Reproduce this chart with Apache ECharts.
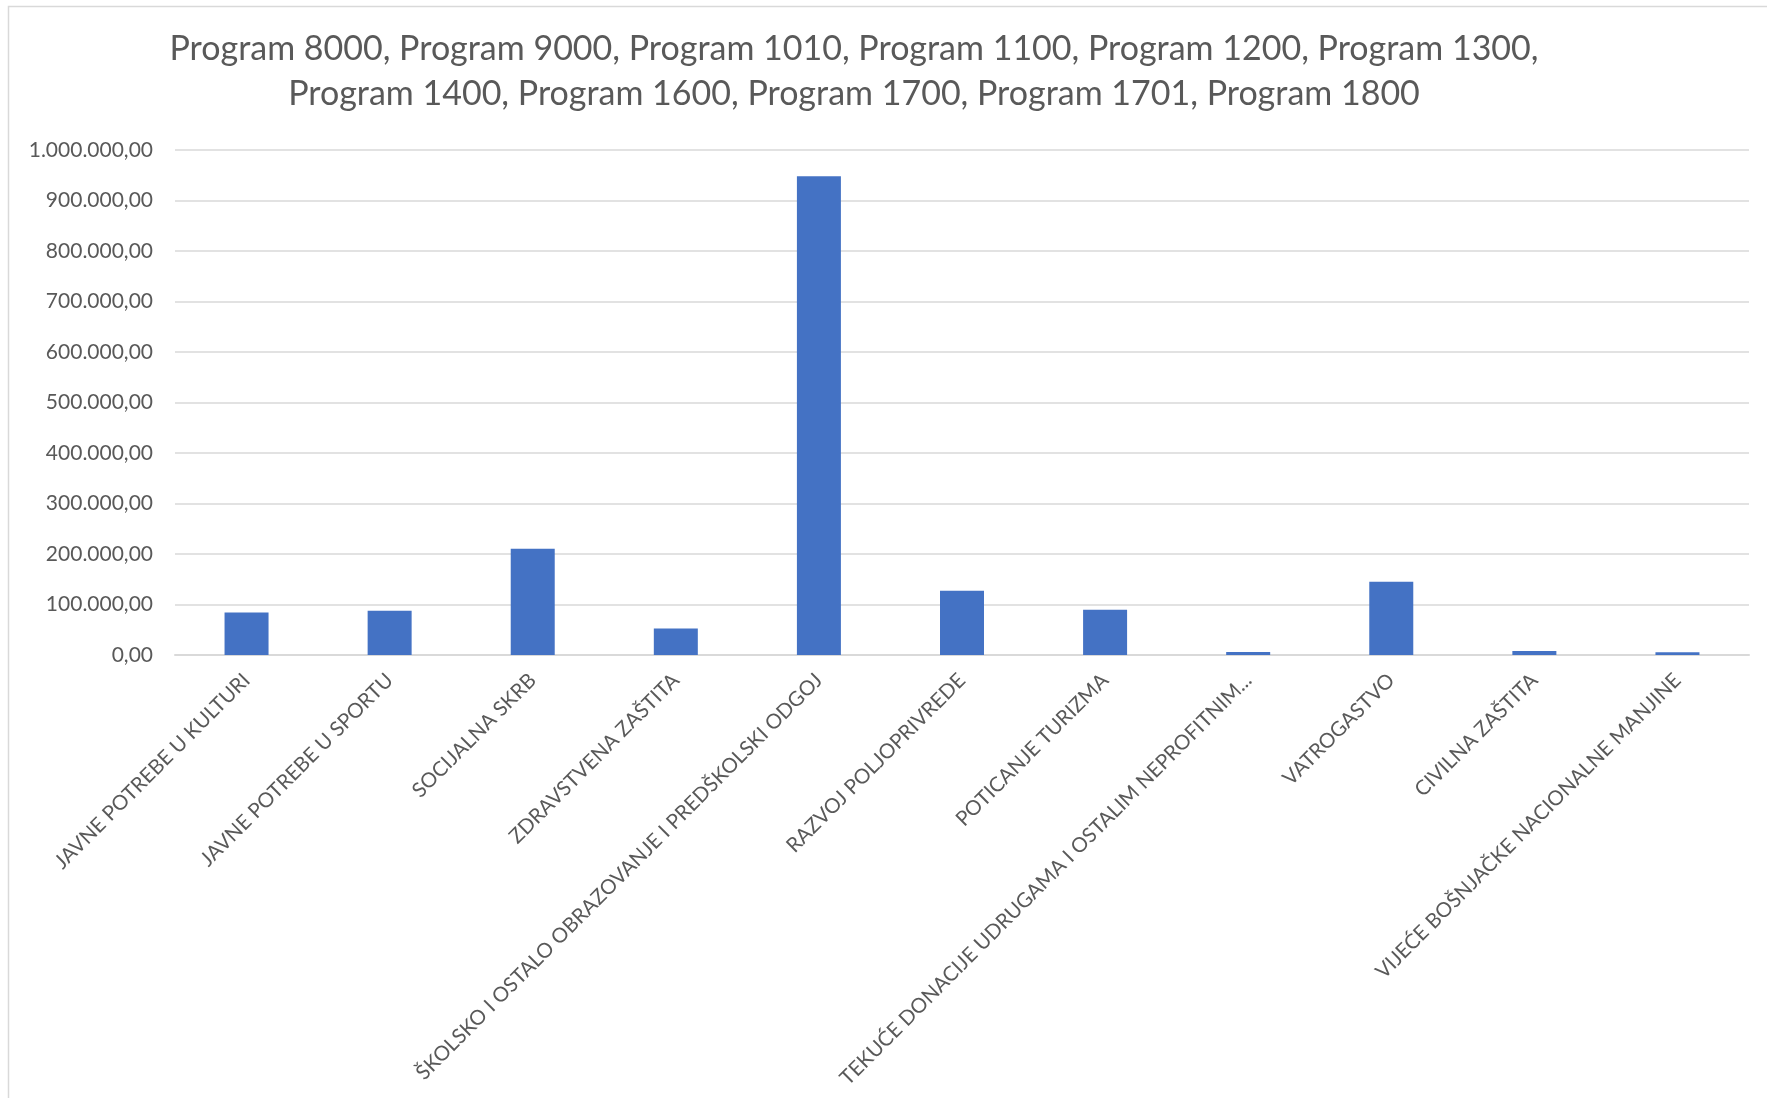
<!DOCTYPE html>
<html lang="hr" style="height:100%">
<head>
    <meta charset="UTF-8">
    <title>Program 8000 - 1800</title>
    <script src="https://cdn.jsdelivr.net/npm/echarts@6.0.0/dist/echarts.min.js"></script>
</head>
<body style="height:100%;margin:0;background:#fff">
<div id="main" style="width:1767px;height:1098px;"></div>
<script type="text/javascript">
    // podaci
    var titleText = 'Program 8000, Program 9000, Program 1010, Program 1100, Program 1200, Program 1300,\nProgram 1400, Program 1600, Program 1700, Program 1701, Program 1800';
    var categories = [
        'JAVNE POTREBE U KULTURI',
        'JAVNE POTREBE U SPORTU',
        'SOCIJALNA SKRB',
        'ZDRAVSTVENA ZAŠTITA',
        'ŠKOLSKO I OSTALO OBRAZOVANJE I PREDŠKOLSKI ODGOJ',
        'RAZVOJ POLJOPRIVREDE',
        'POTICANJE TURIZMA',
        'TEKUĆE DONACIJE UDRUGAMA I OSTALIM NEPROFITNIM...',
        'VATROGASTVO',
        'CIVILNA ZAŠTITA',
        'VIJEĆE BOŠNJAČKE NACIONALNE MANJINE'
    ];
    var values = [84000, 87500, 210500, 52500, 948000, 127000, 89500, 6000, 145000, 8000, 5300];
    var yMin = 0, yMax = 1000000, yStep = 100000;

    function fmt(v) {
        var s = Math.round(v).toString().replace(/\B(?=(\d{3})+(?!\d))/g, '.');
        return s + ',00';
    }

    var myChart = echarts.init(document.getElementById('main'));
    var option = {
        animation: false,
        textStyle: {fontFamily: 'Lato'},
        title: {
            text: titleText,
            left: 849,
            top: 22,
            textAlign: 'center',
            textStyle: {
                fontFamily: 'Lato',
                fontSize: 34,
                fontWeight: 'normal',
                color: '#595959',
                lineHeight: 45
            }
        },
        graphic: [{
            type: 'rect',
            shape: {x: 8.5, y: 6.5, width: 1800, height: 1200},
            style: {fill: 'none', stroke: '#d9d9d9', lineWidth: 1.5},
            silent: true
        }],
        grid: {left: 175, right: 18, top: 150, bottom: 443, containLabel: false},
        xAxis: {
            type: 'category',
            data: categories,
            axisLine: {lineStyle: {color: '#d9d9d9', width: 2}},
            axisTick: {show: false},
            axisLabel: {
                interval: 0,
                rotate: 45,
                margin: 22,
                fontSize: 20.5,
                color: '#595959',
                fontFamily: 'Lato'
            }
        },
        yAxis: {
            type: 'value',
            min: yMin,
            max: yMax,
            interval: yStep,
            axisLine: {show: false},
            axisTick: {show: false},
            splitLine: {lineStyle: {color: '#d9d9d9', width: 1.5}},
            axisLabel: {
                formatter: fmt,
                margin: 22,
                fontSize: 21,
                color: '#595959',
                fontFamily: 'Lato'
            }
        },
        series: [{
            type: 'bar',
            data: values,
            barWidth: 44,
            itemStyle: {color: '#4472C4'}
        }]
    };
    myChart.setOption(option);
</script>
</body>
</html>
